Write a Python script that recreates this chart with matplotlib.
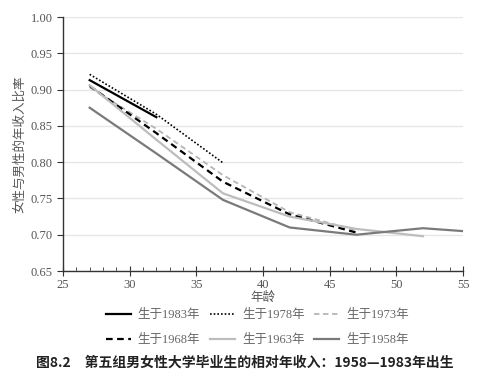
import matplotlib.pyplot as plt
from matplotlib.ticker import MultipleLocator

plt.rcParams['font.family'] = ['Liberation Serif', 'Noto Sans CJK SC']

# 数据：年龄与女性/男性年收入比率
ages_1983 = [27, 32]
ratio_1983 = [0.913, 0.862]
ages_1978 = [27, 32, 37]
ratio_1978 = [0.921, 0.866, 0.799]
ages_1973 = [27, 32, 37, 42, 47]
ratio_1973 = [0.903, 0.846, 0.782, 0.731, 0.706]
ages_1968 = [27, 32, 37, 42, 47]
ratio_1968 = [0.905, 0.840, 0.773, 0.728, 0.703]
ages_1963 = [27, 32, 37, 42, 47, 52]
ratio_1963 = [0.906, 0.831, 0.757, 0.725, 0.708, 0.698]
ages_1958 = [27, 32, 37, 42, 47, 52, 55]
ratio_1958 = [0.875, 0.812, 0.748, 0.710, 0.700, 0.709, 0.705]

labels = ['生于1983年', '生于1978年', '生于1973年', '生于1968年', '生于1963年', '生于1958年']

fig = plt.figure(figsize=(4.9, 3.78), dpi=100)
ax = fig.add_axes([0.1286, 0.283, 0.8163, 0.672])

l1, = ax.plot(ages_1983, ratio_1983, color='black', lw=1.6, ls='-')
l2, = ax.plot(ages_1978, ratio_1978, color='black', lw=1.2, ls=(0, (1, 1.2)))
l3, = ax.plot(ages_1973, ratio_1973, color='#b5b5b5', lw=1.3, ls=(0, (3, 2)))
l4, = ax.plot(ages_1968, ratio_1968, color='black', lw=1.6, ls=(0, (3, 2)))
l5, = ax.plot(ages_1963, ratio_1963, color='#bdbdbd', lw=1.6, ls='-')
l6, = ax.plot(ages_1958, ratio_1958, color='#7a7a7a', lw=1.6, ls='-')

ax.set_xlim(25, 55)
ax.set_ylim(0.65, 1.00)
ax.xaxis.set_major_locator(MultipleLocator(5))
ax.xaxis.set_minor_locator(MultipleLocator(1))
ax.yaxis.set_major_locator(MultipleLocator(0.05))
ax.set_yticklabels([f'{v:.2f}' for v in ax.get_yticks()])
ax.grid(axis='y', color='#e6e6e6', lw=1)
ax.set_axisbelow(True)
for s in ['top', 'right']:
    ax.spines[s].set_visible(False)
for s in ['left', 'bottom']:
    ax.spines[s].set_color('#333333')
    ax.spines[s].set_linewidth(1)
ax.tick_params(axis='x', which='major', direction='inout', length=7, color='#333333',
               labelsize=9, labelcolor='#555555', pad=2)
ax.tick_params(axis='x', which='minor', direction='in', length=3, color='#333333')
ax.tick_params(axis='y', which='major', direction='out', length=4, color='#333333',
               labelsize=9, labelcolor='#555555')

ax.set_xlabel('年龄', fontsize=9, color='#555555', labelpad=1)
ax.set_ylabel('女性与男性的年收入比率', fontsize=9, color='#555555', labelpad=3)

handles = [l1, l4, l2, l5, l3, l6]
leg_labels = [labels[0], labels[3], labels[1], labels[4], labels[2], labels[5]]
fig.legend(handles, leg_labels, ncol=3, loc='center', bbox_to_anchor=(0.525, 0.133),
           frameon=False, fontsize=9, labelcolor='#666666', handlelength=2.0,
           handletextpad=0.55, columnspacing=0.8, labelspacing=1.0)

fig.text(0.5, 0.04, '图8.2　第五组男女性大学毕业生的相对年收入：1958—1983年出生',
         ha='center', va='center', fontsize=10, fontweight='bold',
         family=['Noto Sans CJK SC', 'DejaVu Sans'], color='#222222')

fig.savefig('out.png', dpi=100)
